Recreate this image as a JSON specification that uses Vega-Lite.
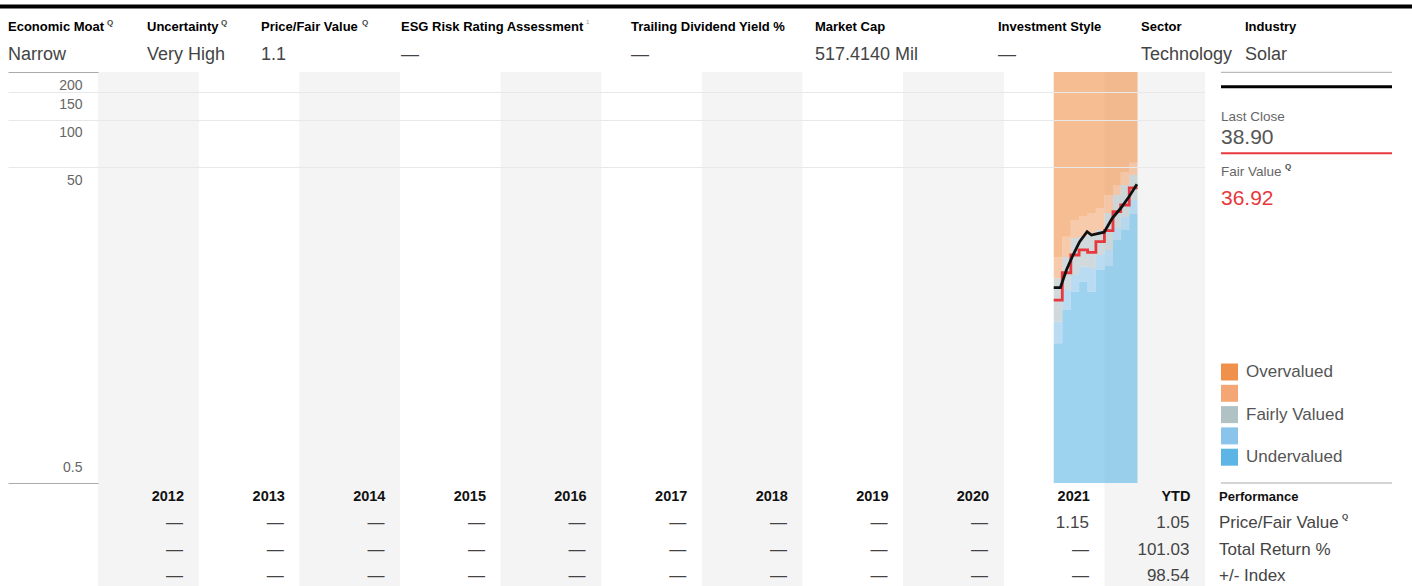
{
  "$schema": "https://vega.github.io/schema/vega-lite/v6.json",
  "width": 1107,
  "height": 514,
  "autosize": {"type": "none"},
  "padding": {"left": 98, "top": 72, "right": 207, "bottom": 0},
  "background": "#ffffff",
  "config": {
    "view": {"stroke": null},
    "font": "Liberation Sans, Arial, sans-serif",
    "axisX": {"disable": true}
  },
  "datasets": {
    "columns": [
      {"start": "2012-01-01", "end": "2013-01-01"},
      {"start": "2014-01-01", "end": "2015-01-01"},
      {"start": "2016-01-01", "end": "2017-01-01"},
      {"start": "2018-01-01", "end": "2019-01-01"},
      {"start": "2020-01-01", "end": "2021-01-01"},
      {"start": "2022-01-01", "end": "2023-01-01"}
    ],
    "valuation": [
      {"date": "2021-07-01", "under_top": 3.83, "modunder_top": 5.25, "fair_top": 9.89, "modover_top": 13.43},
      {"date": "2021-08-01", "under_top": 6.23, "modunder_top": 8.34, "fair_top": 13.49, "modover_top": 18.13},
      {"date": "2021-09-01", "under_top": 8.13, "modunder_top": 10.37, "fair_top": 17.79, "modover_top": 23.13},
      {"date": "2021-10-01", "under_top": 9.41, "modunder_top": 11.70, "fair_top": 18.32, "modover_top": 24.51},
      {"date": "2021-11-01", "under_top": 8.13, "modunder_top": 11.49, "fair_top": 19.13, "modover_top": 25.61},
      {"date": "2021-12-01", "under_top": 11.15, "modunder_top": 13.88, "fair_top": 19.99, "modover_top": 27.54},
      {"date": "2022-01-01", "under_top": 11.88, "modunder_top": 14.94, "fair_top": 25.61, "modover_top": 33.29},
      {"date": "2022-02-01", "under_top": 17.28, "modunder_top": 20.58, "fair_top": 33.29, "modover_top": 38.23},
      {"date": "2022-03-01", "under_top": 19.99, "modunder_top": 24.15, "fair_top": 38.51, "modover_top": 46.55},
      {"date": "2022-04-01", "under_top": 25.23, "modunder_top": 30.95, "fair_top": 44.56, "modover_top": 53.31},
      {"date": "2022-05-01", "under_top": 25.23, "modunder_top": 30.95, "fair_top": 44.56, "modover_top": 53.31}
    ],
    "fairValue": [
      {"date": "2021-07-01", "fair_value": 7.20},
      {"date": "2021-08-01", "fair_value": 10.72},
      {"date": "2021-09-01", "fair_value": 13.88},
      {"date": "2021-10-01", "fair_value": 14.94},
      {"date": "2021-11-01", "fair_value": 14.44},
      {"date": "2021-12-01", "fair_value": 16.85},
      {"date": "2022-01-01", "fair_value": 19.79},
      {"date": "2022-02-01", "fair_value": 26.10},
      {"date": "2022-03-01", "fair_value": 28.77},
      {"date": "2022-04-01", "fair_value": 36.92},
      {"date": "2022-05-01", "fair_value": 36.92}
    ],
    "price": [
      {"date": "2021-07-01", "close": 8.62},
      {"date": "2021-07-25", "close": 8.62},
      {"date": "2021-08-16", "close": 11.15},
      {"date": "2021-09-09", "close": 13.88},
      {"date": "2021-10-03", "close": 16.85},
      {"date": "2021-10-30", "close": 19.5},
      {"date": "2021-11-15", "close": 18.58},
      {"date": "2021-12-03", "close": 18.86},
      {"date": "2021-12-31", "close": 19.35},
      {"date": "2022-01-29", "close": 23.7},
      {"date": "2022-03-01", "close": 27.43},
      {"date": "2022-03-31", "close": 32.48},
      {"date": "2022-04-29", "close": 38.90}
    ],
    "table": [
      {"col": "2012-01-01", "row": "Year", "text": "2012"},
      {"col": "2013-01-01", "row": "Year", "text": "2013"},
      {"col": "2014-01-01", "row": "Year", "text": "2014"},
      {"col": "2015-01-01", "row": "Year", "text": "2015"},
      {"col": "2016-01-01", "row": "Year", "text": "2016"},
      {"col": "2017-01-01", "row": "Year", "text": "2017"},
      {"col": "2018-01-01", "row": "Year", "text": "2018"},
      {"col": "2019-01-01", "row": "Year", "text": "2019"},
      {"col": "2020-01-01", "row": "Year", "text": "2020"},
      {"col": "2021-01-01", "row": "Year", "text": "2021"},
      {"col": "2022-01-01", "row": "Year", "text": "YTD"},
      {"col": "2012-01-01", "row": "Price/Fair Value", "text": "—"},
      {"col": "2013-01-01", "row": "Price/Fair Value", "text": "—"},
      {"col": "2014-01-01", "row": "Price/Fair Value", "text": "—"},
      {"col": "2015-01-01", "row": "Price/Fair Value", "text": "—"},
      {"col": "2016-01-01", "row": "Price/Fair Value", "text": "—"},
      {"col": "2017-01-01", "row": "Price/Fair Value", "text": "—"},
      {"col": "2018-01-01", "row": "Price/Fair Value", "text": "—"},
      {"col": "2019-01-01", "row": "Price/Fair Value", "text": "—"},
      {"col": "2020-01-01", "row": "Price/Fair Value", "text": "—"},
      {"col": "2021-01-01", "row": "Price/Fair Value", "text": "1.15"},
      {"col": "2022-01-01", "row": "Price/Fair Value", "text": "1.05"},
      {"col": "2012-01-01", "row": "Total Return %", "text": "—"},
      {"col": "2013-01-01", "row": "Total Return %", "text": "—"},
      {"col": "2014-01-01", "row": "Total Return %", "text": "—"},
      {"col": "2015-01-01", "row": "Total Return %", "text": "—"},
      {"col": "2016-01-01", "row": "Total Return %", "text": "—"},
      {"col": "2017-01-01", "row": "Total Return %", "text": "—"},
      {"col": "2018-01-01", "row": "Total Return %", "text": "—"},
      {"col": "2019-01-01", "row": "Total Return %", "text": "—"},
      {"col": "2020-01-01", "row": "Total Return %", "text": "—"},
      {"col": "2021-01-01", "row": "Total Return %", "text": "—"},
      {"col": "2022-01-01", "row": "Total Return %", "text": "101.03"},
      {"col": "2012-01-01", "row": "+/- Index", "text": "—"},
      {"col": "2013-01-01", "row": "+/- Index", "text": "—"},
      {"col": "2014-01-01", "row": "+/- Index", "text": "—"},
      {"col": "2015-01-01", "row": "+/- Index", "text": "—"},
      {"col": "2016-01-01", "row": "+/- Index", "text": "—"},
      {"col": "2017-01-01", "row": "+/- Index", "text": "—"},
      {"col": "2018-01-01", "row": "+/- Index", "text": "—"},
      {"col": "2019-01-01", "row": "+/- Index", "text": "—"},
      {"col": "2020-01-01", "row": "+/- Index", "text": "—"},
      {"col": "2021-01-01", "row": "+/- Index", "text": "—"},
      {"col": "2022-01-01", "row": "+/- Index", "text": "98.54"}
    ],
    "rowLabels": [
      {"row": "Year", "text": "Performance"},
      {"row": "Price/Fair Value", "text": "Price/Fair Value"},
      {"row": "Total Return %", "text": "Total Return %"},
      {"row": "+/- Index", "text": "+/- Index"}
    ],
    "header": [
      {"i": 0, "label": "Economic Moat", "value": "Narrow"},
      {"i": 1, "label": "Uncertainty", "value": "Very High"},
      {"i": 2, "label": "Price/Fair Value", "value": "1.1"},
      {"i": 3, "label": "ESG Risk Rating Assessment", "value": "—"},
      {"i": 4, "label": "Trailing Dividend Yield %", "value": "—"},
      {"i": 5, "label": "Market Cap", "value": "517.4140 Mil"},
      {"i": 6, "label": "Investment Style", "value": "—"},
      {"i": 7, "label": "Sector", "value": "Technology"},
      {"i": 8, "label": "Industry", "value": "Solar"}
    ],
    "quote": [{"last_close": 38.90, "fair_value": 36.92}]
  },
  "layer": [
    {
      "layer": [
        {
          "data": {"name": "columns"},
          "mark": {"type": "rect", "color": "#f4f4f4"},
          "encoding": {
            "x": {"field": "start", "type": "temporal", "axis": null,
                  "scale": {"type": "utc", "nice": false, "domain": [{"year": 2012, "month": 1, "date": 1, "utc": true}, {"year": 2023, "month": 1, "date": 1, "utc": true}]}},
            "x2": {"field": "end"},
            "y": {"value": 0},
            "y2": {"value": {"expr": "height"}}
          }
        },
        {
          "layer": [
            {
              "data": {"name": "valuation"},
              "mark": {"type": "area", "interpolate": "step-after", "fillOpacity": 0.6},
              "encoding": {
                "x": {"field": "date", "type": "temporal", "axis": null},
                "y": {"field": "under_top", "type": "quantitative",
                      "scale": {"type": "log", "domain": [0.5, 200], "range": [411, 0], "nice": false},
                      "axis": {
                        "values": [0.5, 50, 100, 150, 200],
                        "title": null,
                        "domain": false,
                        "grid": true,
                        "gridColor": "#e8e8e8",
                        "gridOpacity": {"condition": {"test": "datum.value == 200 || datum.value == 0.5", "value": 0}, "value": 1},
                        "ticks": true,
                        "tickSize": 90,
                        "tickColor": {"condition": {"test": "datum.value == 200 || datum.value == 0.5", "value": "#aaaaaa"}, "value": "#e8e8e8"},
                        "labelPadding": -74,
                        "labelAlign": "right",
                        "labelBaseline": {"condition": {"test": "datum.value == 0.5", "value": "alphabetic"}, "value": "top"},
                        "labelOffset": {"condition": {"test": "datum.value == 0.5", "value": -12}, "value": 6},
                        "labelFontSize": 14,
                        "labelColor": "#666666",
                        "labelFlush": false,
                        "labelOverlap": false,
                        "labelExpr": "format(datum.value, '~g')",
                        "zindex": 1
                      }},
                "y2": {"datum": 0.5},
                "color": {"datum": "Undervalued", "type": "nominal",
                          "scale": {"domain": ["Overvalued", "Moderately Overvalued", "Fairly Valued", "Moderately Undervalued", "Undervalued"],
                                    "range": ["#f0914b", "#f4a774", "#b0c2c4", "#8ac4ea", "#5db5e5"]},
                          "legend": {"orient": "none", "legendX": 1123, "legendY": 291.5, "title": null, "padding": 0,
                                     "symbolType": "square", "symbolSize": 289, "symbolStrokeWidth": 0, "symbolOpacity": 1,
                                     "labelFontSize": 17, "labelColor": "#555555", "labelOffset": 8, "rowPadding": 3.3,
                                     "labelExpr": "indexof(datum.label, 'Moderately') == 0 ? '' : datum.label"}}
              }
            },
            {
              "data": {"name": "valuation"},
              "mark": {"type": "area", "interpolate": "step-after", "fillOpacity": 0.6},
              "encoding": {
                "x": {"field": "date", "type": "temporal", "axis": null},
                "y": {"field": "modunder_top", "type": "quantitative"},
                "y2": {"field": "under_top"},
                "color": {"datum": "Moderately Undervalued", "type": "nominal"}
              }
            },
            {
              "data": {"name": "valuation"},
              "mark": {"type": "area", "interpolate": "step-after", "fillOpacity": 0.6},
              "encoding": {
                "x": {"field": "date", "type": "temporal", "axis": null},
                "y": {"field": "fair_top", "type": "quantitative"},
                "y2": {"field": "modunder_top"},
                "color": {"datum": "Fairly Valued", "type": "nominal"}
              }
            },
            {
              "data": {"name": "valuation"},
              "mark": {"type": "area", "interpolate": "step-after", "fillOpacity": 0.6},
              "encoding": {
                "x": {"field": "date", "type": "temporal", "axis": null},
                "y": {"field": "modover_top", "type": "quantitative"},
                "y2": {"field": "fair_top"},
                "color": {"datum": "Moderately Overvalued", "type": "nominal"}
              }
            },
            {
              "data": {"name": "valuation"},
              "mark": {"type": "area", "interpolate": "step-after", "fillOpacity": 0.6},
              "encoding": {
                "x": {"field": "date", "type": "temporal", "axis": null},
                "y": {"field": "modover_top", "type": "quantitative"},
                "y2": {"datum": 200},
                "color": {"datum": "Overvalued", "type": "nominal"}
              }
            },
            {
              "data": {"name": "fairValue"},
              "mark": {"type": "line", "interpolate": "step-after", "stroke": "#e8383d", "strokeWidth": 2.8},
              "encoding": {
                "x": {"field": "date", "type": "temporal", "axis": null},
                "y": {"field": "fair_value", "type": "quantitative"}
              }
            },
            {
              "data": {"name": "price"},
              "mark": {"type": "line", "stroke": "#111111", "strokeWidth": 2.8},
              "encoding": {
                "x": {"field": "date", "type": "temporal", "axis": null},
                "y": {"field": "close", "type": "quantitative"}
              }
            }
          ]
        },
        {
          "layer": [
            {
              "data": {"name": "table"},
              "transform": [{"filter": "datum.row == 'Year'"}],
              "mark": {"type": "text", "align": "right", "baseline": "middle", "dx": 86, "fontSize": 14.5, "fontWeight": "bold", "color": "#111111"},
              "encoding": {
                "x": {"field": "col", "type": "temporal", "axis": null},
                "y": {"field": "row", "type": "nominal", "axis": null,
                      "scale": {"type": "point", "domain": ["Year", "Price/Fair Value", "Total Return %", "+/- Index"], "range": [425, 504], "padding": 0}},
                "text": {"field": "text"}
              }
            },
            {
              "data": {"name": "table"},
              "transform": [{"filter": "datum.row != 'Year'"}],
              "mark": {"type": "text", "align": "right", "baseline": "middle", "dx": 85, "fontSize": 17, "color": "#444444"},
              "encoding": {
                "x": {"field": "col", "type": "temporal", "axis": null},
                "y": {"field": "row", "type": "nominal", "axis": null},
                "text": {"field": "text"}
              }
            },
            {
              "data": {"name": "rowLabels"},
              "transform": [{"filter": "datum.row == 'Year'"}],
              "mark": {"type": "text", "align": "left", "baseline": "middle", "dx": 14, "fontSize": 13, "fontWeight": "bold", "color": "#111111"},
              "encoding": {
                "x": {"datum": {"year": 2023, "month": 1, "date": 1, "utc": true}, "type": "temporal", "axis": null},
                "y": {"field": "row", "type": "nominal", "axis": null},
                "text": {"field": "text"}
              }
            },
            {
              "data": {"name": "rowLabels"},
              "transform": [{"filter": "datum.row != 'Year'"}],
              "mark": {"type": "text", "align": "left", "baseline": "middle", "dx": 14, "fontSize": 17, "color": "#444444"},
              "encoding": {
                "x": {"datum": {"year": 2023, "month": 1, "date": 1, "utc": true}, "type": "temporal", "axis": null},
                "y": {"field": "row", "type": "nominal", "axis": null},
                "text": {"field": "text"}
              }
            },
            {
              "data": {"name": "rowLabels"},
              "transform": [{"filter": "datum.row == 'Price/Fair Value'"}],
              "mark": {"type": "text", "align": "left", "baseline": "middle", "dx": 137, "dy": -6, "fontSize": 8, "fontWeight": "bold", "color": "#444444", "text": "Q"},
              "encoding": {
                "x": {"datum": {"year": 2023, "month": 1, "date": 1, "utc": true}, "type": "temporal", "axis": null},
                "y": {"field": "row", "type": "nominal", "axis": null}
              }
            }
          ]
        }
      ],
      "resolve": {"scale": {"y": "independent"}}
    },
    {
      "layer": [
        {
          "data": {"values": [{}]},
          "mark": {"type": "rule", "strokeWidth": 4, "color": "#000000"},
          "encoding": {
            "x": {"datum": -1, "type": "quantitative", "axis": null,
                  "scale": {"domain": [-1, 0, 1, 2, 3, 4, 5, 6, 7, 8, 9], "range": [-98, -90, 49, 163, 303, 533, 717, 900, 1043, 1147, 1314], "nice": false, "zero": false}},
            "x2": {"datum": 9},
            "y": {"datum": 0, "type": "quantitative", "axis": null,
                  "scale": {"domain": [0, 1, 2], "range": [-65.5, -45.5, -17.5], "nice": false, "zero": false}}
          }
        },
        {
          "data": {"name": "header"},
          "mark": {"type": "text", "align": "left", "baseline": "middle", "fontSize": 13, "fontWeight": "bold", "color": "#000000"},
          "encoding": {
            "x": {"field": "i", "type": "quantitative", "axis": null},
            "y": {"datum": 1, "type": "quantitative", "axis": null},
            "text": {"field": "label"}
          }
        },
        {
          "data": {"name": "header"},
          "mark": {"type": "text", "align": "left", "baseline": "middle", "fontSize": 18, "color": "#444444"},
          "encoding": {
            "x": {"field": "i", "type": "quantitative", "axis": null},
            "y": {"datum": 2, "type": "quantitative", "axis": null},
            "text": {"field": "value"}
          }
        },
        {
          "data": {"values": [{}]},
          "mark": {"type": "text", "align": "left", "baseline": "middle", "dx": 99, "dy": -4, "fontSize": 8, "fontWeight": "bold", "color": "#444444", "text": "Q"},
          "encoding": {"x": {"datum": 0, "type": "quantitative", "axis": null}, "y": {"datum": 1, "type": "quantitative", "axis": null}}
        },
        {
          "data": {"values": [{}]},
          "mark": {"type": "text", "align": "left", "baseline": "middle", "dx": 74, "dy": -4, "fontSize": 8, "fontWeight": "bold", "color": "#444444", "text": "Q"},
          "encoding": {"x": {"datum": 1, "type": "quantitative", "axis": null}, "y": {"datum": 1, "type": "quantitative", "axis": null}}
        },
        {
          "data": {"values": [{}]},
          "mark": {"type": "text", "align": "left", "baseline": "middle", "dx": 101, "dy": -4, "fontSize": 8, "fontWeight": "bold", "color": "#444444", "text": "Q"},
          "encoding": {"x": {"datum": 2, "type": "quantitative", "axis": null}, "y": {"datum": 1, "type": "quantitative", "axis": null}}
        },
        {
          "data": {"values": [{}]},
          "mark": {"type": "text", "align": "left", "baseline": "middle", "dx": 185, "dy": -5, "fontSize": 6, "color": "#999999", "text": "1"},
          "encoding": {"x": {"datum": 3, "type": "quantitative", "axis": null}, "y": {"datum": 1, "type": "quantitative", "axis": null}}
        }
      ]
    },
    {
      "layer": [
        {
          "data": {"values": [{}]},
          "mark": {"type": "rule", "strokeWidth": 1, "color": "#aaaaaa"},
          "encoding": {
            "x": {"datum": 0, "type": "quantitative", "axis": null, "scale": {"domain": [0, 1], "range": [1123, 1294], "nice": false, "zero": false}},
            "x2": {"datum": 1},
            "y": {"datum": 0, "type": "quantitative", "axis": null,
                  "scale": {"domain": [0, 1, 2, 3, 4, 5, 6, 7], "range": [0.3, 14.7, 44.7, 65.5, 81.3, 99.7, 127.3, 411], "nice": false, "zero": false}}
          }
        },
        {
          "data": {"values": [{}]},
          "mark": {"type": "rule", "strokeWidth": 1, "color": "#aaaaaa"},
          "encoding": {"x": {"datum": 0, "type": "quantitative", "axis": null}, "x2": {"datum": 1}, "y": {"datum": 7, "type": "quantitative", "axis": null}}
        },
        {
          "data": {"values": [{}]},
          "mark": {"type": "rule", "strokeWidth": 3, "color": "#000000"},
          "encoding": {"x": {"datum": 0, "type": "quantitative", "axis": null}, "x2": {"datum": 1}, "y": {"datum": 1, "type": "quantitative", "axis": null}}
        },
        {
          "data": {"values": [{}]},
          "mark": {"type": "rule", "strokeWidth": 2, "color": "#e8383d"},
          "encoding": {"x": {"datum": 0, "type": "quantitative", "axis": null}, "x2": {"datum": 1}, "y": {"datum": 4, "type": "quantitative", "axis": null}}
        },
        {
          "data": {"values": [{}]},
          "mark": {"type": "text", "align": "left", "baseline": "middle", "fontSize": 13.5, "color": "#666666", "text": "Last Close"},
          "encoding": {"x": {"datum": 0, "type": "quantitative", "axis": null}, "y": {"datum": 2, "type": "quantitative", "axis": null}}
        },
        {
          "data": {"name": "quote"},
          "mark": {"type": "text", "align": "left", "baseline": "middle", "fontSize": 21, "color": "#555555"},
          "encoding": {"x": {"datum": 0, "type": "quantitative", "axis": null}, "y": {"datum": 3, "type": "quantitative", "axis": null},
                       "text": {"field": "last_close", "type": "quantitative", "format": ".2f"}}
        },
        {
          "data": {"values": [{}]},
          "mark": {"type": "text", "align": "left", "baseline": "middle", "fontSize": 13.5, "color": "#666666", "text": "Fair Value"},
          "encoding": {"x": {"datum": 0, "type": "quantitative", "axis": null}, "y": {"datum": 5, "type": "quantitative", "axis": null}}
        },
        {
          "data": {"values": [{}]},
          "mark": {"type": "text", "align": "left", "baseline": "middle", "dx": 64, "dy": -5, "fontSize": 8, "fontWeight": "bold", "color": "#444444", "text": "Q"},
          "encoding": {"x": {"datum": 0, "type": "quantitative", "axis": null}, "y": {"datum": 5, "type": "quantitative", "axis": null}}
        },
        {
          "data": {"name": "quote"},
          "mark": {"type": "text", "align": "left", "baseline": "middle", "fontSize": 21, "color": "#e8383d"},
          "encoding": {"x": {"datum": 0, "type": "quantitative", "axis": null}, "y": {"datum": 6, "type": "quantitative", "axis": null},
                       "text": {"field": "fair_value", "type": "quantitative", "format": ".2f"}}
        }
      ]
    }
  ],
  "resolve": {"scale": {"x": "independent", "y": "independent"}}
}
